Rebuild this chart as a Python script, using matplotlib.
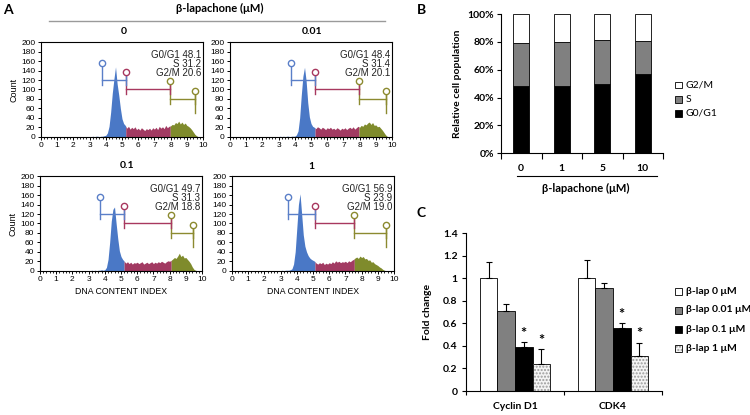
import numpy as np
import matplotlib
matplotlib.use('Agg')
import matplotlib.pyplot as plt
from matplotlib.ticker import MultipleLocator, FixedLocator, FuncFormatter, NullFormatter
from matplotlib.patches import Rectangle
from matplotlib.lines import Line2D

# ---------------- data ----------------
# Panel A: DNA content histograms (bins of 0.1 starting at 3.0)
hist_bins = np.round(np.arange(3.0, 9.75, 0.1), 2)
conc_A = ['0', '0.01', '0.1', '1']
counts_0 = [0, 0, 1, 0, 1, 1, 0, 1, 1, 2,
            3, 8, 22, 52, 92, 122, 148, 112, 88, 60,
            38, 28, 24, 18, 22, 16, 20, 17, 21, 15,
            18, 14, 19, 16, 13, 17, 15, 18, 14, 19,
            16, 20, 15, 22, 18, 21, 17, 24, 19, 22,
            23, 26, 25, 30, 28, 33, 27, 31, 26, 29,
            24, 22, 19, 15, 10, 5, 2, 0]
counts_001 = [0, 1, 0, 1, 0, 1, 1, 0, 1, 1,
              1, 4, 12, 40, 88, 128, 147, 118, 72, 42,
              28, 22, 20, 17, 21, 19, 16, 20, 18, 15,
              19, 17, 20, 16, 18, 15, 19, 17, 14, 18,
              16, 19, 15, 18, 20, 17, 21, 16, 19, 22,
              20, 24, 22, 27, 25, 29, 31, 26, 30, 24,
              25, 21, 22, 18, 14, 9, 4, 1]
counts_01 = [0, 0, 1, 0, 1, 0, 1, 1, 2, 1,
             2, 7, 24, 60, 105, 130, 135, 100, 68, 42,
             30, 24, 20, 16, 19, 15, 18, 14, 17, 16,
             18, 15, 17, 19, 14, 16, 18, 15, 17, 19,
             15, 18, 16, 19, 17, 20, 18, 16, 19, 21,
             20, 22, 25, 28, 26, 31, 37, 30, 33, 27,
             28, 24, 20, 15, 8, 3, 1, 0]
counts_1 = [0, 1, 0, 1, 1, 1, 2, 4, 14, 40,
            90, 140, 163, 120, 76, 52, 40, 32, 27, 24,
            22, 20, 16, 14, 17, 15, 18, 13, 16, 14,
            17, 15, 19, 16, 21, 18, 20, 17, 19, 18,
            20, 17, 21, 19, 22, 24, 27, 29, 26, 31,
            28, 30, 25, 26, 22, 23, 18, 19, 15, 13,
            11, 8, 6, 3, 1, 0, 0, 0]
counts_A = [counts_0, counts_001, counts_01, counts_1]
g0g1_A = [48.1, 48.4, 49.7, 56.9]
s_A = [31.2, 31.4, 31.3, 23.9]
g2m_A = [20.6, 20.1, 18.8, 19.0]
gate_g1_start = [3.77, 3.75, 3.70, 3.48]
gate_s_start = [5.23, 5.25, 5.19, 5.12]
gate_g2_start = [7.98, 7.96, 8.10, 7.55]
gate_g2_end = [9.50, 9.65, 9.42, 9.50]

# Panel B
conc_B = ['0', '1', '5', '10']
g0g1_B = [48.1, 48.4, 49.7, 56.9]
s_B = [31.2, 31.4, 31.3, 23.9]
g2m_B = [20.7, 20.2, 19.0, 19.2]
phase_names = ['G2/M', 'S', 'G0/G1']

# Panel C
genes = ['Cyclin D1', 'CDK4']
treat_labels = ['β-lap 0 μM', 'β-lap 0.01 μM', 'β-lap 0.1 μM', 'β-lap 1 μM']
fold_cyclin = [1.0, 0.71, 0.39, 0.24]
err_cyclin = [0.145, 0.06, 0.04, 0.13]
fold_cdk4 = [1.0, 0.91, 0.56, 0.31]
err_cdk4 = [0.165, 0.05, 0.04, 0.115]
signif = [False, False, True, True]

# ---------------- figure ----------------
W, H = 750, 415
fig = plt.figure(figsize=(7.5, 4.15), dpi=100)
CAL = ['Lato', 'DejaVu Sans']
ARI = ['Liberation Sans', 'DejaVu Sans']


def rect(x0, y0, x1, y1):
    return [x0 / W, 1 - y1 / H, (x1 - x0) / W, (y1 - y0) / H]


def ftxt(x, y, s, **kw):
    fig.text(x / W, 1 - y / H, s, **kw)


def fline(x0, x1, y, **kw):
    fig.add_artist(Line2D([x0 / W, x1 / W], [1 - y / H, 1 - y / H],
                          transform=fig.transFigure, **kw))


BLUE = '#4a78c6'
RED = '#a23a62'
OLIVE = '#7f8b2c'
GBLUE = '#5a7fc8'
GRED = '#a8385f'
GOLIVE = '#8c8a30'


def seg(x, y, a, b):
    xs = np.concatenate([[a], x[(x > a) & (x < b)], [b]])
    return xs, np.interp(xs, x, y)


def gate(ax, x0, x1, h, c_top, color, end_top=None):
    ax.plot([x0, x0], [h - 10, c_top], color=color, lw=1.0, zorder=4)
    ax.plot([x0, x1], [h, h], color=color, lw=1.0, zorder=4)
    ax.plot([x1, x1], [h - 10, h + 10], color=color, lw=1.0, zorder=4)
    ax.plot([x0], [c_top], marker='o', ms=4.5, mfc='white', mec=color, mew=1.0, zorder=5)
    if end_top is not None:
        ax.plot([x1, x1], [h - 30, end_top], color=color, lw=1.0, zorder=4)
        ax.plot([x1], [end_top], marker='o', ms=4.5, mfc='white', mec=color, mew=1.0, zorder=5)


hist_rects = [(41, 42.3, 203, 136.7), (230, 42.3, 392, 136.7),
              (40, 176.3, 202, 270.7), (232, 176.3, 394, 270.7)]
label_pos = [(124, 32), (312, 32), (127, 165), (311, 166)]

for i in range(4):
    ax = fig.add_axes(rect(*hist_rects[i]))
    x = hist_bins
    y = np.array(counts_A[i], float)
    for (a, b, col) in [(x[0], gate_s_start[i], BLUE),
                        (gate_s_start[i], gate_g2_start[i], RED),
                        (gate_g2_start[i], x[-1], OLIVE)]:
        xs, ys = seg(x, y, a, b)
        ax.fill_between(xs, 0, ys, color=col, lw=0, zorder=2)
    gate(ax, gate_g2_start[i], gate_g2_end[i], 80, 117, GOLIVE, end_top=96)
    gate(ax, gate_s_start[i], gate_g2_start[i], 100, 137, GRED)
    gate(ax, gate_g1_start[i], gate_s_start[i], 120, 156, GBLUE)
    ax.set_xlim(0, 10)
    ax.set_ylim(0, 200)
    ax.xaxis.set_major_locator(MultipleLocator(1))
    ax.xaxis.set_minor_locator(MultipleLocator(0.2))
    ax.yaxis.set_major_locator(MultipleLocator(20))
    ax.tick_params(axis='both', which='major', length=2.5, width=0.7, labelsize=6, pad=1.5)
    ax.tick_params(axis='x', which='minor', length=1.5, width=0.6)
    for lab in ax.get_xticklabels() + ax.get_yticklabels():
        lab.set_family(ARI)
    for sp in ax.spines.values():
        sp.set_linewidth(0.8)
    txt = ['G0/G1 %.1f' % g0g1_A[i], 'S %.1f' % s_A[i], 'G2/M %.1f' % g2m_A[i]]
    for k, t in enumerate(txt):
        ax.text(0.99, 0.865 - 0.095 * k, t, transform=ax.transAxes, ha='right', va='center',
                fontsize=7, family=ARI, color='#222222')
    if i in (0, 2):
        ax.set_ylabel('Count', fontsize=6.5, family=ARI, labelpad=2)
    if i in (2, 3):
        ax.set_xlabel('DNA CONTENT INDEX', fontsize=6.3, family=ARI, labelpad=3)
    ftxt(label_pos[i][0], label_pos[i][1], conc_A[i], ha='center', va='center',
         fontsize=7.5, fontweight='bold', family=CAL)

ftxt(8, 10, 'A', ha='center', va='center', fontsize=10, fontweight='bold', family=CAL)
ftxt(220, 8.5, 'β-lapachone (μM)', ha='center', va='center', fontsize=8, fontweight='bold', family=CAL)
fline(49, 385, 20.7, color='#9a9a9a', lw=1.0)

# ---------------- Panel B ----------------
axB = fig.add_axes(rect(501, 14, 663, 153.3))
xB = np.arange(len(conc_B))
bw = 0.4
b0 = np.array(g0g1_B)
b1 = b0 + np.array(s_B)
axB.bar(xB, g0g1_B, width=bw, color='black', edgecolor='black', lw=0.6, zorder=2)
axB.bar(xB, s_B, width=bw, bottom=b0, color='#808080', edgecolor='black', lw=0.6, zorder=2)
axB.bar(xB, g2m_B, width=bw, bottom=b1, color='white', edgecolor='black', lw=0.6, zorder=2)
axB.set_xlim(-0.5, 3.5)
axB.set_ylim(0, 100)
axB.spines['top'].set_visible(False)
axB.spines['right'].set_visible(False)
axB.yaxis.set_major_locator(MultipleLocator(20))
axB.yaxis.set_major_formatter(FuncFormatter(lambda v, p: '%d%%' % v))
axB.xaxis.set_major_locator(FixedLocator(np.arange(-0.5, 4, 1)))
axB.xaxis.set_major_formatter(NullFormatter())
axB.xaxis.set_minor_locator(FixedLocator(xB))
axB.set_xticklabels(conc_B, minor=True)
axB.tick_params(axis='x', which='major', length=4, width=0.8)
axB.tick_params(axis='x', which='minor', length=0, pad=8, labelsize=7.5)
axB.tick_params(axis='y', length=3, width=0.8, labelsize=7.5, pad=2)
for lab in axB.get_xticklabels(minor=True) + axB.get_yticklabels():
    lab.set_family(CAL)
    lab.set_fontweight('bold')
for sp in axB.spines.values():
    sp.set_linewidth(0.8)
axB.set_ylabel('Relative cell population', fontsize=7.5, fontweight='bold', family=CAL, labelpad=4)
fline(517, 657, 176, color='black', lw=0.8)
ftxt(586, 188.5, 'β-lapachone (μM)', ha='center', va='center', fontsize=8, fontweight='bold', family=CAL)
ftxt(422, 9.5, 'B', ha='center', va='center', fontsize=10, fontweight='bold', family=CAL)

legB_cols = ['white', '#808080', 'black']
legB_y = [85, 99.5, 113.5]
for name, col, yy in zip(phase_names, legB_cols, legB_y):
    fig.add_artist(Rectangle((675 / W, 1 - (yy + 3.2) / H), 6.5 / W, 6.5 / H,
                             transform=fig.transFigure, facecolor=col, edgecolor='black', lw=0.6))
    ftxt(686, yy, name, ha='left', va='center', fontsize=7.5, family=CAL)

# ---------------- Panel C ----------------
axC = fig.add_axes(rect(466, 233, 662, 391))
xC = np.arange(len(genes))
cw = 0.18
means = np.array([fold_cyclin, fold_cdk4]).T  # treatments x genes
errs = np.array([err_cyclin, err_cdk4]).T
face = ['white', '#808080', 'black', '#f2f2f2']
for t in range(4):
    xt = xC + (t - 1.5) * cw
    if t == 3:
        axC.bar(xt, means[t], width=cw, color='#f4f4f4', edgecolor='#9a9a9a', hatch='.....',
                lw=0, zorder=2)
        axC.bar(xt, means[t], width=cw, fill=False, edgecolor='black', lw=0.6, zorder=3)
    else:
        axC.bar(xt, means[t], width=cw, color=face[t], edgecolor='black', lw=0.6, zorder=2)
    axC.errorbar(xt, means[t], yerr=[np.zeros(2), errs[t]], fmt='none', ecolor='black',
                 elinewidth=0.8, capsize=2.5, capthick=0.8, zorder=4)
    if signif[t]:
        for g in range(2):
            axC.text(xt[g], means[t][g] + errs[t][g] + 0.015, '*', ha='center', va='bottom',
                     fontsize=10.5, fontweight='bold', family=CAL)
axC.set_xlim(-0.5, 1.5)
axC.set_ylim(0, 1.4)
axC.spines['top'].set_visible(False)
axC.spines['right'].set_visible(False)
axC.yaxis.set_major_locator(MultipleLocator(0.2))
axC.yaxis.set_major_formatter(FuncFormatter(lambda v, p: '%g' % round(v, 1)))
axC.xaxis.set_major_locator(FixedLocator([-0.5, 0.5, 1.5]))
axC.xaxis.set_major_formatter(NullFormatter())
axC.xaxis.set_minor_locator(FixedLocator(xC))
axC.set_xticklabels(genes, minor=True)
axC.tick_params(axis='x', which='major', length=3, width=0.8)
axC.tick_params(axis='x', which='minor', length=0, pad=8, labelsize=7.5)
axC.tick_params(axis='y', length=3, width=0.8, labelsize=7.5, pad=3)
for lab in axC.get_xticklabels(minor=True) + axC.get_yticklabels():
    lab.set_family(CAL)
    lab.set_fontweight('bold')
for sp in axC.spines.values():
    sp.set_linewidth(0.8)
axC.set_ylabel('Fold change', fontsize=7.5, fontweight='bold', family=CAL, labelpad=8)
ftxt(421, 213, 'C', ha='center', va='center', fontsize=10, fontweight='bold', family=CAL)

legC_y = [291, 310, 329, 348]
for t, (name, yy) in enumerate(zip(treat_labels, legC_y)):
    if t == 3:
        fig.add_artist(Rectangle((675 / W, 1 - (yy + 3.5) / H), 7 / W, 7 / H,
                                 transform=fig.transFigure, facecolor='#f4f4f4',
                                 edgecolor='#9a9a9a', hatch='.....', lw=0))
        fig.add_artist(Rectangle((675 / W, 1 - (yy + 3.5) / H), 7 / W, 7 / H,
                                 transform=fig.transFigure, fill=False, edgecolor='black', lw=0.6))
    else:
        fig.add_artist(Rectangle((675 / W, 1 - (yy + 3.5) / H), 7 / W, 7 / H,
                                 transform=fig.transFigure, facecolor=face[t],
                                 edgecolor='black', lw=0.6))
    ftxt(686, yy, name, ha='left', va='center', fontsize=7.5, fontweight='bold', family=CAL)

fig.savefig('out.png', dpi=100)
